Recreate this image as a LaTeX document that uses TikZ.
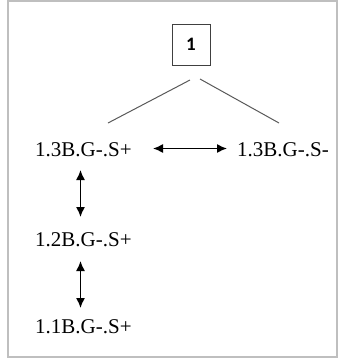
\documentclass[tikz,border=0pt]{standalone}
\usepackage{fontspec}
\setmainfont{Liberation Serif}
\newfontfamily\boxfont{Carlito}
\usetikzlibrary{arrows.meta}
\begin{document}
\begin{tikzpicture}[x=1pt,y=-1pt,
  label text/.style={anchor=base west,inner sep=0pt,font=\fontsize{21}{24}\selectfont},
  rootbox/.style={draw=black!75,line width=0.9pt,minimum width=38pt,minimum height=41pt,inner sep=0pt,font=\boxfont\bfseries\fontsize{19}{22}\selectfont},
  branch/.style={draw=black!65,line width=1pt},
  link/.style={draw=black,line width=1.4pt,{Latex[length=10pt,width=9pt]}-{Latex[length=10pt,width=9pt]}}]
  \useasboundingbox (0,0) rectangle (342,362);
  % outer frame
  \draw[black!25,line width=1.6pt] (8,1) rectangle (337,357);
  % root box
  \node[rootbox] (root) at (191,44.5) {1};
  % labels
  \node[label text] (a3p) at (35,156) {1.3B.G-.S+};
  \node[label text] (a3m) at (237,156) {1.3B.G-.S-};
  \node[label text] (a2p) at (35,246) {1.2B.G-.S+};
  \node[label text] (a1p) at (35,333) {1.1B.G-.S+};
  % branch ends
  \coordinate (bl1) at (190,80);
  \coordinate (bl2) at (108,123);
  \coordinate (br1) at (200,79);
  \coordinate (br2) at (279,123);
  \draw[branch] (bl1) -- (bl2);
  \draw[branch] (br1) -- (br2);
  % arrow ends
  \coordinate (h1) at (153,148.5);
  \coordinate (h2) at (227,148.5);
  \coordinate (v1) at (80.5,170);
  \coordinate (v2) at (80.5,217);
  \coordinate (w1) at (80.5,261);
  \coordinate (w2) at (80.5,308);
  \draw[link] (h1) -- (h2);
  \draw[link] (v1) -- (v2);
  \draw[link] (w1) -- (w2);
\end{tikzpicture}
\end{document}
